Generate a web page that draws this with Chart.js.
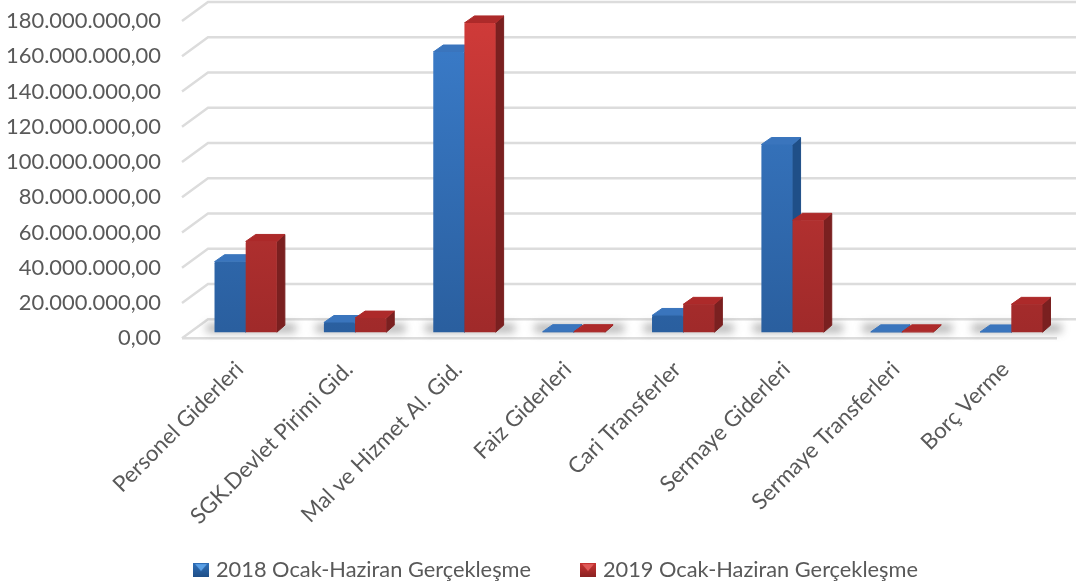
<!DOCTYPE html>
<html><head><meta charset="utf-8">
<style>html,body{margin:0;padding:0;background:#fff}#w{width:1076px;height:587px}canvas{filter:blur(0.45px)}</style>
<script src="https://cdn.jsdelivr.net/npm/chart.js@4"></script>
</head><body><div id="w"><canvas id="c" width="1076" height="587"></canvas></div>
<script>
const categories=["Personel Giderleri","SGK.Devlet Pirimi Gid.","Mal ve Hizmet Al. Gid.","Faiz Giderleri","Cari Transferler","Sermaye Giderleri","Sermaye Transferleri","Borç Verme"];
const series2018=[40000000,5500000,159000000,300000,9500000,106500000,200000,150000];
const series2019=[51500000,8000000,175500000,300000,15800000,63500000,200000,15800000];
const label2018="2018 Ocak-Haziran Gerçekleşme";
const label2019="2019 Ocak-Haziran Gerçekleşme";
const fontFamily="Lato, 'Open Sans', sans-serif";
const textColor="#595959";
const gridColor="#dcdcdc";
const ctx=document.getElementById('c').getContext('2d');
function vg(a,b){const g=ctx.createLinearGradient(0,20,0,336);g.addColorStop(0,a);g.addColorStop(1,b);return g;}
function swatch(a,b,hi){const cv=document.createElement('canvas');cv.width=16;cv.height=14;const x=cv.getContext('2d');
 const g=x.createLinearGradient(0,0,0,14);g.addColorStop(0,a);g.addColorStop(1,b);x.fillStyle=g;x.fillRect(0,0,16,14);
 x.fillStyle=hi;x.beginPath();x.moveTo(2,1);x.lineTo(14,1);x.lineTo(8,8);x.closePath();x.fill();return cv;}
const fmt=v=>new Intl.NumberFormat('tr-TR',{minimumFractionDigits:2,maximumFractionDigits:2}).format(v);
const DX=9,DY=-6,SX=8,SY=-7;
const sides=[{top:'#3a75bd',side:'#1f4f88'},{top:'#ad2a2a',side:'#7a2020'}];
const noPad=s=>{s.paddingTop=s.paddingBottom=s.paddingLeft=s.paddingRight=0;};
const chart3d={id:'chart3d',
 afterLayout(ch){ch.legend.left+=29;ch.legend.right+=29;ch.legend.top+=8;ch.legend.bottom+=8;ch.scales.x.bottom+=70;},
 beforeDatasetsDraw(ch){
  const c=ch.ctx,y=ch.scales.y,a=ch.chartArea;
  c.save();c.strokeStyle=gridColor;c.lineWidth=2.4;
  y.ticks.forEach((t,i)=>{const p=y.getPixelForTick(i);
   c.beginPath();c.moveTo(a.left,p);c.lineTo(a.left+26,p-19);c.lineTo(1076,p-19);c.stroke();});
  const p0=y.getPixelForValue(0);
  c.beginPath();c.moveTo(a.left,p0);c.lineTo(a.right,p0);c.stroke();
  c.filter='blur(4px)';c.fillStyle='rgba(60,60,60,.42)';
  const m0=ch.getDatasetMeta(0).data,m1=ch.getDatasetMeta(1).data;
  m0.forEach((b,i)=>{const r=m1[i];const l=b.x-b.width/2+DX-8,R=r.x+r.width/2+DX+19;
   c.fillRect(l,p0+DY-8,R-l,8);});
  c.filter='none';c.restore();
 },
 beforeDatasetDraw(){return false;},
 afterDatasetsDraw(ch){
  const c=ch.ctx;
  [0,1].forEach(idx=>{
   const meta=ch.getDatasetMeta(idx),s=sides[idx];
   c.save();c.translate(DX,DY);c.lineJoin='round';
   meta.data.forEach(b=>{
    const l=b.x-b.width/2,r=b.x+b.width/2,t=b.y,bo=b.base;
    c.fillStyle=s.side;c.strokeStyle=s.side;c.lineWidth=1;c.beginPath();c.moveTo(r,t);c.lineTo(r+SX,t+SY);c.lineTo(r+SX,bo+SY);c.lineTo(r,bo);c.closePath();c.fill();c.stroke();
    c.fillStyle=s.top;c.strokeStyle=s.top;c.beginPath();c.moveTo(l,t);c.lineTo(l+SX+2,t+SY);c.lineTo(r+SX,t+SY);c.lineTo(r,t);c.closePath();c.fill();c.stroke();
   });
   meta.controller.draw();
   c.restore();
  });
 }
};
new Chart(ctx,{type:'bar',
 data:{labels:categories,datasets:[
  {label:label2018,data:series2018,pointStyle:swatch('#2f6fb8','#1f4f88','#5aa0e6'),backgroundColor:vg('#3b7dcb','#2a5f9f'),categoryPercentage:.57,barPercentage:1,borderRadius:1.5},
  {label:label2019,data:series2019,pointStyle:swatch('#c83432','#8a2222','#e05a58'),backgroundColor:vg('#d03b39','#a02a2a'),categoryPercentage:.57,barPercentage:1,borderRadius:1.5}]},
 plugins:[chart3d],
 options:{responsive:false,animation:false,devicePixelRatio:1,
  layout:{padding:{left:0,right:19,top:21,bottom:4}},
  plugins:{tooltip:{enabled:false},
   legend:{position:'bottom',labels:{color:textColor,font:{family:fontFamily,size:21.8},boxWidth:8,boxHeight:8,padding:53,usePointStyle:true}}},
  scales:{
   y:{min:0,max:180000000,afterFit(s){s.width=182;noPad(s);},
    ticks:{stepSize:20000000,color:textColor,font:{family:fontFamily,size:21.9},padding:13,callback:v=>fmt(v)},
    grid:{display:false},border:{display:false}},
   x:{afterFit(s){s.height=160;noPad(s);},
    ticks:{color:textColor,font:{family:fontFamily,size:22.2},minRotation:45,maxRotation:45,autoSkip:false,padding:10,labelOffset:3},
    grid:{display:false},border:{display:false}}
  }}});
</script></body></html>
